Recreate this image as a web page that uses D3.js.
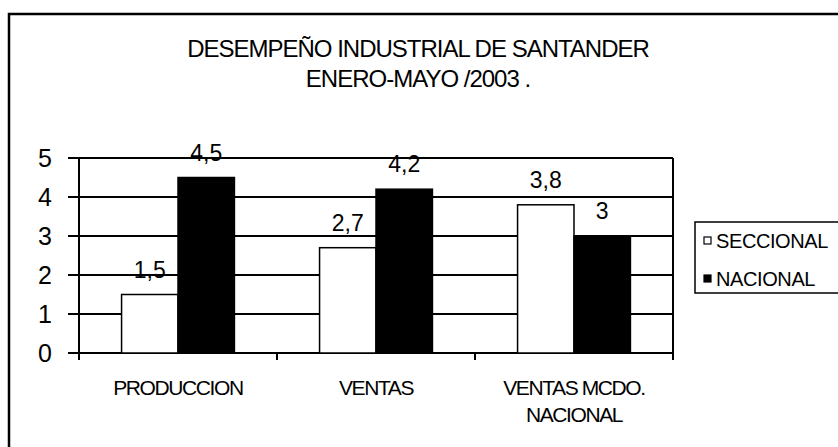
<!DOCTYPE html>
<html>
<head>
<meta charset="utf-8">
<script src="https://cdn.jsdelivr.net/npm/d3@7"></script>
<style>
  body { margin: 0; background: #fff; }
  text { font-family: "Liberation Sans", Arial, sans-serif; fill: #000; }
</style>
</head>
<body>
<div id="container"></div>
<script>
var categories = [['PRODUCCION'], ['VENTAS'], ['VENTAS MCDO.', 'NACIONAL']];
var seriesNames = ['SECCIONAL', 'NACIONAL'];
var seccional = [1.5, 2.7, 3.8];
var nacional = [4.5, 4.2, 3];
var yTicks = [0, 1, 2, 3, 4, 5];
var titleLines = ['DESEMPEÑO INDUSTRIAL DE SANTANDER', 'ENERO-MAYO /2003 .'];

var width = 838, height = 447;
var plot = { left: 79, right: 673, top: 158, bottom: 353 };
var fills = ['#fff', '#000'];

var svg = d3.select('#container').append('svg')
  .attr('width', width).attr('height', height);

// outer frame, runs off the right and bottom edge
svg.append('rect')
  .attr('x', 9).attr('y', 14).attr('width', 900).attr('height', 500)
  .attr('fill', 'none').attr('stroke', '#000').attr('stroke-width', 2.5);

svg.selectAll('text.title')
  .data(titleLines)
  .enter().append('text')
  .attr('class', 'title')
  .attr('x', 418).attr('y', function(d, i) { return 57 + i * 30; })
  .attr('text-anchor', 'middle')
  .style('font-size', '24px')
  .style('letter-spacing', '-1px')
  .text(function(d) { return d; });

var catKeys = categories.map(function(c) { return c.join(' '); });
var x0 = d3.scaleBand().domain(catKeys).range([plot.left, plot.right]);
var groupW = x0.bandwidth() * 0.57;
var x1 = d3.scaleBand().domain(seriesNames).range([0, groupW]);
var y = d3.scaleLinear().domain([0, 5]).range([plot.bottom, plot.top]);

// gridlines
svg.append('g')
  .selectAll('line')
  .data(yTicks)
  .enter().append('line')
  .attr('x1', plot.left - 11).attr('x2', plot.right)
  .attr('y1', function(d) { return y(d); }).attr('y2', function(d) { return y(d); })
  .attr('stroke', '#000').attr('stroke-width', 2);

// y axis labels
var yAxis = d3.axisLeft(y).tickValues(yTicks).tickFormat(d3.format('d')).tickSize(0).tickPadding(27);
var yg = svg.append('g').attr('transform', 'translate(' + plot.left + ',0)').call(yAxis);
yg.select('.domain').remove();
yg.attr('font-size', null).attr('font-family', null);
yg.selectAll('text').style('font-size', '25px');

var series = [seccional, nacional];
var bars = [];
categories.forEach(function(c, ci) {
  seriesNames.forEach(function(s, si) {
    bars.push({ cat: catKeys[ci], series: s, si: si, value: series[si][ci] });
  });
});

var barX = function(d) { return x0(d.cat) + (x0.bandwidth() - groupW) / 2 + x1(d.series); };

svg.append('g').selectAll('rect')
  .data(bars)
  .enter().append('rect')
  .attr('x', barX)
  .attr('y', function(d) { return y(d.value); })
  .attr('width', x1.bandwidth())
  .attr('height', function(d) { return y(0) - y(d.value); })
  .attr('fill', function(d) { return fills[d.si]; })
  .attr('stroke', '#000').attr('stroke-width', 1.5);

svg.append('g').selectAll('text')
  .data(bars)
  .enter().append('text')
  .attr('x', function(d) { return barX(d) + x1.bandwidth() / 2; })
  .attr('y', function(d) { return y(d.value) - 17; })
  .attr('text-anchor', 'middle')
  .style('font-size', '23px')
  .text(function(d) { return String(d.value).replace('.', ','); });

// axes lines
svg.append('line')
  .attr('x1', plot.left).attr('x2', plot.left)
  .attr('y1', plot.top).attr('y2', plot.bottom + 7)
  .attr('stroke', '#000').attr('stroke-width', 2);
svg.append('line')
  .attr('x1', plot.right).attr('x2', plot.right)
  .attr('y1', plot.top).attr('y2', plot.bottom + 7)
  .attr('stroke', '#000').attr('stroke-width', 2);

// category ticks between bands
svg.append('g').selectAll('line')
  .data(catKeys.slice(1))
  .enter().append('line')
  .attr('x1', function(d) { return x0(d); }).attr('x2', function(d) { return x0(d); })
  .attr('y1', plot.bottom).attr('y2', plot.bottom + 7)
  .attr('stroke', '#000').attr('stroke-width', 2);

var catLabels = svg.append('g').selectAll('text')
  .data(categories)
  .enter().append('text')
  .attr('text-anchor', 'middle')
  .style('font-size', '21px')
  .style('letter-spacing', '-1.4px');
catLabels.each(function(d, i) {
  var t = d3.select(this);
  d.forEach(function(line, li) {
    t.append('tspan')
      .attr('x', x0(catKeys[i]) + x0.bandwidth() / 2)
      .attr('y', 395 + li * 27)
      .text(line);
  });
});

// legend
var legend = svg.append('g');
legend.append('rect')
  .attr('x', 695).attr('y', 222).attr('width', 200).attr('height', 71)
  .attr('fill', '#fff').attr('stroke', '#000').attr('stroke-width', 1.5);
var items = legend.selectAll('g.item')
  .data(seriesNames)
  .enter().append('g')
  .attr('transform', function(d, i) { return 'translate(0,' + (i * 38) + ')'; });
items.append('rect')
  .attr('x', 704).attr('y', 237).attr('width', 7).attr('height', 7)
  .attr('fill', function(d, i) { return fills[i]; })
  .attr('stroke', '#000').attr('stroke-width', 1.2);
items.append('text')
  .attr('x', 716).attr('y', 248)
  .style('font-size', '20px')
  .style('letter-spacing', '-0.4px')
  .text(function(d) { return d; });
</script>
</body>
</html>
